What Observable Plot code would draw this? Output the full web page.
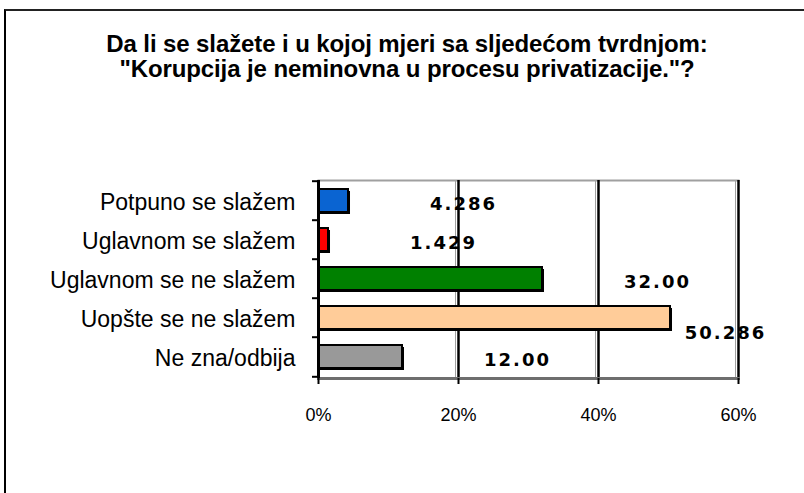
<!DOCTYPE html>
<html>
<head>
<meta charset="utf-8">
<script src="https://cdn.jsdelivr.net/npm/d3@7"></script>
<script src="https://cdn.jsdelivr.net/npm/@observablehq/plot@0.6"></script>
<style>
  html, body { margin: 0; padding: 0; background: #fff; }
  body { width: 804px; height: 493px; overflow: hidden; position: relative; }
  #frame { position: absolute; left: 4px; top: 9px; width: 900px; height: 600px;
           border-left: 2px solid #000; border-top: 2px solid #222; }
  #title { position: absolute; left: 0; top: 31px; width: 814px; text-align: center;
           font-family: "Liberation Sans", Arial, sans-serif; font-weight: bold;
           font-size: 24px; line-height: 25px; letter-spacing: -0.1px; color: #000; }
  #chart { position: absolute; left: 0; top: 0; }
  #chart g[aria-label="text"] text { letter-spacing: 2px; }
</style>
</head>
<body>
<div id="frame"></div>
<div id="title"></div>
<div id="chart"></div>
<script>
const titleLines = [
  "Da li se slažete i u kojoj mjeri sa sljedećom tvrdnjom:",
  "\"Korupcija je neminovna u procesu privatizacije.\"?"
];
const categories = [
  "Potpuno se slažem",
  "Uglavnom se slažem",
  "Uglavnom se ne slažem",
  "Uopšte se ne slažem",
  "Ne zna/odbija"
];
const values = [4.286, 1.429, 32.00, 50.286, 12.00];
const valueLabels = ["4.286", "1.429", "32.00", "50.286", "12.00"];
const colors = ["#0a64d2", "#ff0000", "#008000", "#ffcc99", "#999999"];
const xTicks = [0, 20, 40, 60];
const xDomain = [0, 60];

document.getElementById("title").innerHTML = titleLines.map(t => t.replace(/&/g,"&amp;").replace(/</g,"&lt;")).join("<br>");

const data = categories.map((c, i) => ({category: c, value: values[i], label: valueLabels[i]}));
const maxVal = d3.max(values);
const normal = data.filter(d => d.value !== maxVal);
const largest = data.filter(d => d.value === maxVal);

const chart = Plot.plot({
  width: 804,
  height: 493,
  marginLeft: 318,
  marginRight: 66,
  marginTop: 180,
  marginBottom: 115,
  style: {fontFamily: "'Liberation Sans', Arial, sans-serif", fontSize: "19px", color: "#000", background: "transparent"},
  x: {domain: xDomain},
  y: {domain: categories, paddingInner: 0.4, paddingOuter: 0.2},
  color: {domain: categories, range: colors},
  marks: [
    Plot.frame({anchor: "top", stroke: "#a0a0a0", strokeWidth: 2}),
    Plot.ruleX(xTicks.slice(1), {stroke: "#a0a0a0", strokeWidth: 1, dx: -3}),
    Plot.ruleX(xTicks.slice(1), {stroke: "#000", strokeWidth: 2.5}),
    Plot.barX(data, {x: "value", y: "category", fill: "#000", dx: 2, dy: 2}),
    Plot.barX(data, {x: "value", y: "category", fill: "category", stroke: "#000", strokeWidth: 2}),
    Plot.frame({anchor: "bottom", stroke: "#6e6e6e", strokeWidth: 3}),
    Plot.ruleX([0], {stroke: "#000", strokeWidth: 3}),
    Plot.ruleY(categories, {y: d => d, x1: 0, x2: 0, insetLeft: -6, stroke: "#000", strokeWidth: 2, dy: -19.8}),
    Plot.ruleY(categories.slice(-1), {y: d => d, x1: 0, x2: 0, insetLeft: -6, stroke: "#000", strokeWidth: 2, dy: 19.8}),
    Plot.axisX({ticks: xTicks, tickFormat: d => d + "%", tickSize: 6, tickPadding: 24, label: null, stroke: "#000", strokeWidth: 2, fontSize: 18}),
    Plot.axisY({tickSize: 0, tickPadding: 23, label: null, fontSize: 23, dy: 2}),
    Plot.text(normal, {x: "value", y: "category", text: "label", dx: 115, dy: 3, textAnchor: "middle",
      fontFamily: "'DejaVu Sans', Verdana, sans-serif", fontWeight: "bold", fontSize: 18, fill: "#000"}),
    Plot.text(largest, {x: "value", y: "category", text: "label", dx: 55, dy: 15, textAnchor: "middle",
      fontFamily: "'DejaVu Sans', Verdana, sans-serif", fontWeight: "bold", fontSize: 18, fill: "#000"})
  ]
});
document.getElementById("chart").appendChild(chart);
</script>
</body>
</html>
